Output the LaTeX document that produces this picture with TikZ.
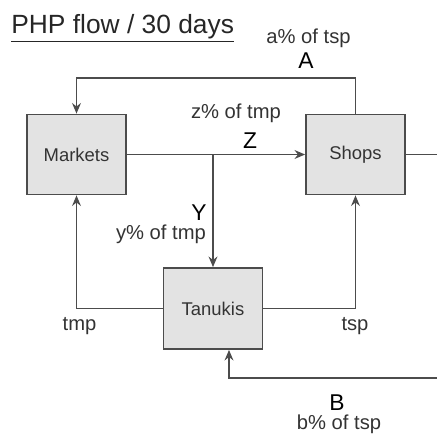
\documentclass[tikz,border=0pt]{standalone}
\usepackage{fontspec}
\setmainfont{Liberation Sans}
\usetikzlibrary{arrows.meta}
\tikzset{
  stock/.style={draw=black!70, fill=gray!22, line width=1pt, minimum width=1.98cm,
    minimum height=1.6cm, text=black!80, font=\fontsize{10.5}{12}\selectfont},
  flow/.style={draw=black!70, line width=1.1pt, -{Stealth[length=6pt,width=5pt]}},
  pct/.style={anchor=base, inner sep=0pt, text=black!80, font=\fontsize{11.5}{13}\selectfont},
  letter/.style={anchor=base, inner sep=0pt, font=\fontsize{13}{15}\selectfont}
}
\begin{document}
\begin{tikzpicture}[x=0.02cm, y=-0.02cm]
    \useasboundingbox (0,0) rectangle (437,434);
    \node[anchor=base west, inner sep=0pt, text=black!85, font=\fontsize{15}{18}\selectfont]
      (title) at (11,33) {\underline{PHP flow / 30 days}};

    % the three stocks
    \node[stock] (markets) at (76.5,154.5) {Markets};
    \node[stock] (shops) at (355.5,154.5) {Shops};
    \node[stock, minimum height=1.62cm] (tanukis) at (213,308.5) {Tanukis};

    \coordinate (rimA) at (437,154.5);
    \coordinate (rimB) at (437,378);

    % flows
    \draw[flow] (markets) -- (shops);
    \draw[flow] (markets.east -| tanukis.north) -- (tanukis.north);
    \draw[flow] (shops.north) -- ++(0,-36) -| (markets.north);
    \draw[flow] (tanukis.west) -| (markets.south);
    \draw[flow] (tanukis.east) -| (shops.south);
    \draw[draw=black!70, line width=1.1pt] (shops.east) -- (rimA);
    \draw[flow] (rimB) -| ([xshift=0.32cm]tanukis.south);

    % labels
    \node[pct] (la) at (308.5,43) {a\% of tsp};
    \node[letter] (lA) at (306,68) {A};
    \node[pct] (lz) at (236,118) {z\% of tmp};
    \node[letter] (lZ) at (250,148) {Z};
    \node[letter] (lY) at (199,220) {Y};
    \node[pct] (ly) at (161,239) {y\% of tmp};
    \node[pct] (ltmp) at (79.5,330) {tmp};
    \node[pct] (ltsp) at (355,330) {tsp};
    \node[letter] (lB) at (337,410) {B};
    \node[pct] (lb) at (339,429) {b\% of tsp};
\end{tikzpicture}
\end{document}
